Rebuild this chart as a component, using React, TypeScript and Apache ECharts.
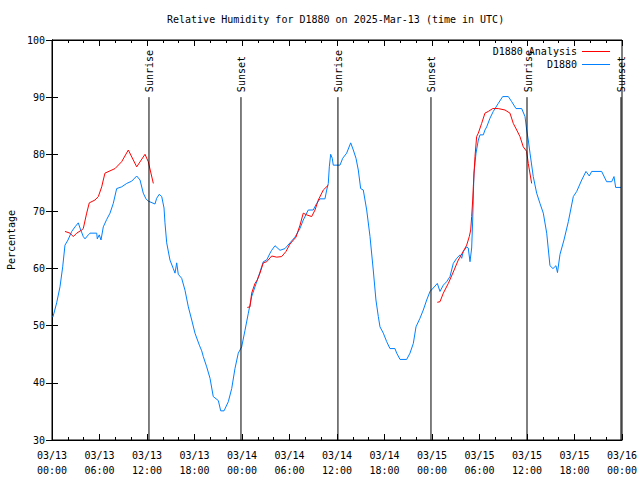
import React, { useEffect, useRef } from "react";
import * as echarts from "echarts";

// time in hours since 2025-03-13 00:00 UTC, relative humidity (%)
const blueData: [number, number][] = [
  [0.1, 51.5], [0.25, 52.2], [0.59, 54], [1.01, 56.8], [1.35, 60.3], [1.64, 64.1], [2.02, 65],
  [2.49, 66.5], [2.91, 67.3], [3.32, 68], [3.54, 67.1], [3.95, 65.6], [4.17, 65.2], [4.59, 65.9],
  [4.8, 66.2], [5.65, 66.2], [5.72, 65.2], [5.97, 65.9], [6.19, 65], [6.48, 67.3], [6.91, 68.6],
  [7.33, 69.7], [7.74, 71.4], [8.17, 74], [8.8, 74.3], [9.44, 74.9], [10.07, 75.3], [10.7, 76.2],
  [11.12, 75.5], [11.53, 73.2], [11.87, 72.2], [12.16, 71.8], [13.01, 71.3], [13.22, 72.3],
  [13.55, 73], [13.86, 72.6], [14.15, 70.6], [14.27, 68], [14.49, 64.5], [14.9, 61.5], [15.32, 60],
  [15.54, 59.2], [15.75, 61], [15.95, 59], [16.38, 58.3], [16.8, 56.2], [17.22, 53.3], [17.65, 51],
  [18.06, 48.7], [18.61, 46.6], [18.91, 45.6], [19.11, 44.6], [19.54, 42.8], [19.96, 40.8],
  [20.37, 37.6], [21.01, 36.9], [21.31, 35.1], [21.73, 35.1], [22.27, 36.7], [22.7, 39],
  [23.11, 42.5], [23.53, 45.2], [23.96, 46.3], [24.38, 49.2], [24.8, 52.2], [25.22, 55.1],
  [25.64, 56.8], [26.27, 59.4], [26.69, 61.2], [27.12, 61.5], [27.54, 62.7], [27.75, 63.2],
  [28.17, 64], [28.8, 63.2], [29.43, 63.5], [30.06, 64.5], [30.69, 65.5], [31.33, 67.05],
  [31.74, 68.5], [32.37, 70.25], [33.0, 70.25], [33.43, 71.4], [33.85, 72.2], [34.48, 72.2],
  [34.7, 73.75], [34.9, 74.9], [35.03, 77.8], [35.2, 80], [35.4, 79.3], [35.53, 78.1], [36.38, 78.1],
  [36.72, 79.3], [37.22, 80.2], [37.73, 82], [38.06, 80.75], [38.4, 79.3], [38.69, 77.25],
  [38.99, 74], [39.32, 73.75], [39.75, 70.25], [40.17, 65.6], [40.58, 59.75], [40.92, 54.5],
  [41.22, 51.6], [41.43, 49.8], [41.85, 48.7], [42.28, 47.2], [42.69, 46], [43.32, 46],
  [43.54, 45.2], [43.96, 44.1], [44.8, 44.1], [45.22, 45.2], [45.64, 46.9], [45.98, 49.8],
  [46.48, 51.3], [46.9, 52.75], [47.33, 54.5], [47.75, 56], [48.16, 56.6], [48.67, 57.4],
  [49.01, 56], [49.43, 57.1], [49.85, 57.7], [50.27, 58.6], [50.69, 60.9], [51.12, 61.8],
  [51.54, 62.4], [51.75, 61.8], [51.95, 63], [52.38, 63.8], [52.58, 63.6], [52.8, 61.2],
  [53.01, 63.6], [53.14, 68.5], [53.3, 76.7], [53.56, 80.2], [53.85, 82.5], [54.06, 83.4],
  [54.48, 83.4], [54.69, 84.25], [54.91, 84.8], [55.32, 86.3], [55.74, 87.5], [56.37, 88.9],
  [56.93, 90.1], [57.64, 90.1], [58.07, 89.2], [58.61, 88], [59.33, 88], [59.75, 86.6],
  [59.96, 84.25], [60.16, 82.5], [60.38, 80.2], [60.79, 76.1], [61.22, 73.2], [61.64, 71.4],
  [62.06, 69.7], [62.49, 66.2], [62.9, 60.5], [63.28, 60], [63.66, 60.5], [63.85, 59.3],
  [64.17, 62.5], [64.67, 65], [65.22, 68.2], [65.85, 72.6], [66.28, 73.5], [66.91, 75.5],
  [67.45, 77], [67.87, 76.2], [68.17, 77], [69.43, 77], [70.06, 75.2], [70.7, 75.2], [70.99, 76.1],
  [71.2, 74.2], [71.87, 74.2],
];

const redSeg1: [number, number][] = [
  [1.64, 66.5], [2.27, 66.2], [2.69, 65.6], [3.12, 66.2], [3.75, 66.75], [3.95, 67], [4.38, 69.7],
  [4.71, 71.5], [5.43, 72], [5.85, 72.6], [6.28, 74.3], [6.48, 75.5], [6.69, 76.7], [7.96, 77.5],
  [8.8, 78.7], [9.64, 80.75], [10.7, 77.8], [11.75, 80], [12.16, 78.7], [12.8, 74.9],
];
const redSeg2: [number, number][] = [
  [24.67, 53.2], [25.01, 53.3], [25.22, 55.7], [25.64, 57.4], [25.93, 58], [26.27, 59.2],
  [26.69, 61], [27.12, 61.2], [27.75, 62.2], [28.38, 62], [29.01, 62.1], [29.56, 63], [30.06, 64.3],
  [30.82, 65.5], [31.33, 67.6], [31.74, 69.7], [32.17, 69.4], [32.8, 69.1], [33.22, 70.25],
  [33.64, 72], [34.27, 73.75], [34.9, 74.6],
];
const redSeg3: [number, number][] = [
  [48.67, 54.1], [49.01, 54.2], [49.43, 55.7], [50.06, 57.4], [50.69, 59.4], [51.32, 61.5],
  [51.95, 63], [52.38, 64.1], [52.71, 65.6], [52.89, 66.75], [53.01, 69.1], [53.14, 72],
  [53.22, 74.3], [53.43, 79.6], [53.64, 83.1], [53.85, 83.7], [54.27, 85.4], [54.69, 87.2],
  [55.11, 87.5], [55.67, 88], [56.37, 88], [57.22, 87.75], [57.85, 87.2], [58.27, 85.4],
  [58.7, 84.25], [59.11, 83.1], [59.53, 81.3], [59.96, 80.5], [60.16, 78.4], [60.59, 74.9],
];

const sunEvents: [number, string][] = [
  [12.25, "Sunrise"], [23.87, "Sunset"], [36.12, "Sunrise"],
  [47.87, "Sunset"], [60.0, "Sunrise"], [71.87, "Sunset"],
];

const xTickLabels = [
  "03/13\n00:00", "03/13\n06:00", "03/13\n12:00", "03/13\n18:00",
  "03/14\n00:00", "03/14\n06:00", "03/14\n12:00", "03/14\n18:00",
  "03/15\n00:00", "03/15\n06:00", "03/15\n12:00", "03/15\n18:00", "03/16\n00:00",
];

const FONT = "DejaVu Sans Mono";

export default function App() {
  const ref = useRef<HTMLDivElement>(null);
  useEffect(() => {
    if (!ref.current) return;
    const chart = echarts.init(ref.current, null, { renderer: "svg" });
    const redData: any[] = [...redSeg1, [18, "-"], ...redSeg2, [40, "-"], ...redSeg3];
    const axisCommon = {
      axisLine: { show: true, lineStyle: { color: "#000", width: 1 } },
      splitLine: { show: false },
    };
    chart.setOption({
      animation: false,
      backgroundColor: "#fff",
      textStyle: { fontFamily: FONT },
      title: {
        text: "Relative Humidity for D1880 on 2025-Mar-13 (time in UTC)",
        left: 162,
        top: 9,
        textStyle: { fontFamily: FONT, fontSize: 10, fontWeight: "normal", color: "#000" },
      },
      legend: {
        orient: "vertical",
        right: 25,
        top: 41,
        align: "right",
        icon: "rect",
        itemWidth: 28,
        itemHeight: 1,
        itemGap: 2,
        textStyle: { fontFamily: FONT, fontSize: 10, color: "#000", lineHeight: 11 },
        data: ["D1880 Analysis", "D1880"],
      },
      grid: {
        left: 52, right: 18, top: 40, bottom: 40, show: true, borderColor: "#000", borderWidth: 1,
        outerBoundsMode: "none", containLabel: false,
      },
      xAxis: [
        {
          type: "value", min: 0, max: 72, interval: 6, position: "bottom",
          ...axisCommon,
          axisTick: { show: true, inside: true, length: 6, lineStyle: { color: "#000" } },
          minorTick: { show: true, splitNumber: 3, length: 3, lineStyle: { color: "#000" } },
          axisLabel: {
            showMinLabel: true, showMaxLabel: true, margin: 8,
            fontFamily: FONT, fontSize: 10, color: "#000", lineHeight: 15,
            formatter: (v: number) => xTickLabels[Math.round(v / 6)] ?? "",
          },
        },
        {
          type: "value", min: 0, max: 72, interval: 6, position: "top",
          ...axisCommon,
          axisTick: { show: true, inside: true, length: 6, lineStyle: { color: "#000" } },
          minorTick: { show: true, splitNumber: 3, length: 3, lineStyle: { color: "#000" } },
          axisLabel: { show: false },
        },
      ],
      yAxis: [
        {
          type: "value", min: 30, max: 100, interval: 10,
          ...axisCommon,
          name: "Percentage", nameLocation: "middle", nameGap: 36,
          nameTextStyle: { fontFamily: FONT, fontSize: 10, color: "#000" },
          axisTick: { show: true, inside: true, length: 6, lineStyle: { color: "#000" } },
          axisLabel: { fontFamily: FONT, fontSize: 10, color: "#000", margin: 7 },
        },
        {
          type: "value", min: 30, max: 100, interval: 10, position: "right",
          ...axisCommon,
          axisTick: { show: true, inside: true, length: 6, lineStyle: { color: "#000" } },
          axisLabel: { show: false },
        },
      ],
      series: [
        {
          name: "D1880 Analysis", type: "line", data: redData, symbol: "none",
          connectNulls: false, lineStyle: { color: "#ff0000", width: 1 }, itemStyle: { color: "#ff0000" },
          z: 3,
        },
        {
          name: "D1880", type: "line", data: blueData, symbol: "none",
          lineStyle: { color: "#0080ff", width: 1 }, itemStyle: { color: "#0080ff" },
          z: 2,
        },
        {
          type: "custom",
          data: sunEvents.map((e) => [e[0], 90, e[1]]),
          clip: false,
          z: 4,
          renderItem: (params: any, api: any) => {
            const t = api.value(0);
            const label = sunEvents[params.dataIndex][1];
            const top = api.coord([t, 90]);
            const bottom = api.coord([t, 30]);
            return {
              type: "group",
              children: [
                {
                  type: "line",
                  shape: { x1: top[0], y1: top[1], x2: bottom[0], y2: bottom[1] },
                  style: { stroke: "#000", lineWidth: 1 },
                },
                {
                  type: "text",
                  x: top[0] + 1,
                  y: top[1] - 5,
                  rotation: Math.PI / 2,
                  style: {
                    text: label, x: 0, y: 0, align: "left", verticalAlign: "middle",
                    fill: "#000", font: `10px "${FONT}"`,
                  },
                },
              ],
            };
          },
        },
      ],
    });
    return () => chart.dispose();
  }, []);
  return <div ref={ref} style={{ position: "fixed", left: 0, top: 0, width: 640, height: 480 }} />;
}
